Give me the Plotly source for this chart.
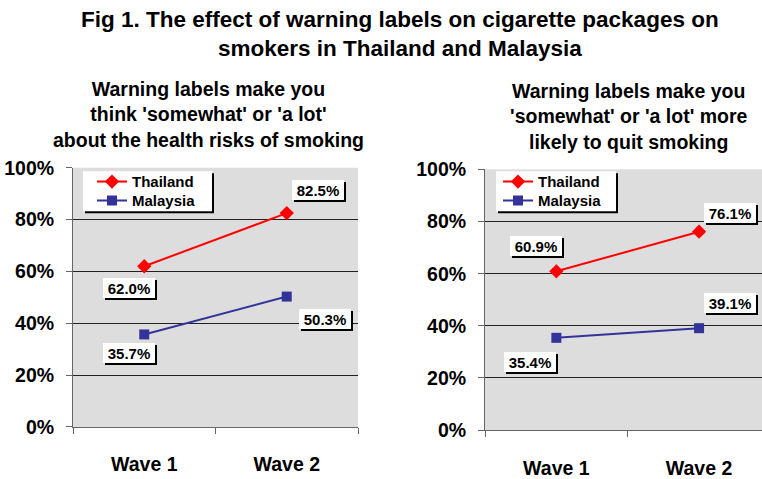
import plotly.graph_objects as go

# ---- data ----
waves = ["Wave 1", "Wave 2"]
think_thailand = [62.0, 82.5]
think_malaysia = [35.7, 50.3]
quit_thailand = [60.9, 76.1]
quit_malaysia = [35.4, 39.1]
y_ticks = [0, 20, 40, 60, 80, 100]
y_tick_labels = ["0%", "20%", "40%", "60%", "80%", "100%"]
series_names = ["Thailand", "Malaysia"]

title_text = "Fig 1. The effect of warning labels on cigarette packages on<br>smokers in Thailand and Malaysia"
sub_left = "Warning labels make you<br>think 'somewhat' or 'a lot'<br>about the health risks of smoking"
sub_right = "Warning labels make you<br>'somewhat' or 'a lot' more<br>likely to quit smoking"

W, H = 762, 479
FONT = "Liberation Sans, Arial, sans-serif"
RED = "#ff0000"
BLUE = "#333399"

def px_x(v):
    return v / W

def px_y(v):
    return 1 - v / H

fig = go.Figure()

def add_pair(th, ma, xa, ya, leg_th, leg_ma):
    fig.add_trace(go.Scatter(x=waves, y=th, name=series_names[0], mode="lines+markers",
                             line=dict(color=RED, width=2),
                             marker=dict(symbol="diamond", size=11, color=RED),
                             xaxis=xa, yaxis=ya, legend=leg_th))
    fig.add_trace(go.Scatter(x=waves, y=ma, name=series_names[1], mode="lines+markers",
                             line=dict(color=BLUE, width=2),
                             marker=dict(symbol="square", size=10, color=BLUE),
                             xaxis=xa, yaxis=ya, legend=leg_ma))

add_pair(think_thailand, think_malaysia, "x", "y", "legend", "legend2")
add_pair(quit_thailand, quit_malaysia, "x2", "y2", "legend3", "legend4")

tickfont = dict(family=FONT, size=19.5, color="black", weight="bold")
xcommon = dict(type="category", showline=True, linecolor="#666666", linewidth=1,
               ticks="outside", ticklen=6, tickcolor="#666666", tickson="boundaries",
               showgrid=False, tickfont=tickfont, ticklabelstandoff=20, fixedrange=True)
ycommon = dict(range=[0, 100], tickmode="array", tickvals=y_ticks, ticktext=y_tick_labels,
               showline=True, linecolor="#666666", linewidth=1, ticks="outside", ticklen=6,
               tickcolor="#666666", showgrid=True, gridcolor="#222222", gridwidth=1,
               zeroline=False, tickfont=tickfont, ticklabelstandoff=8, fixedrange=True)

legend_common = dict(bgcolor="rgba(0,0,0,0)", borderwidth=0, xanchor="left", yanchor="middle",
                     font=dict(family=FONT, size=15, color="black", weight="bold"),
                     itemwidth=30, tracegroupgap=0)

fig.update_layout(
    width=W, height=H, margin=dict(l=0, r=0, t=0, b=0),
    paper_bgcolor="white", plot_bgcolor="#dddddd",
    xaxis=dict(domain=[px_x(73), px_x(358)], range=[-0.5, 1.5], anchor="y", **xcommon),
    yaxis=dict(domain=[1 - 436 / H, 1 - 164.3 / H], anchor="x", **ycommon),
    xaxis2=dict(domain=[px_x(485), 1.0], range=[-0.5, 1.441], anchor="y2", **xcommon),
    yaxis2=dict(domain=[1 - 439.3 / H, 1 - 166 / H], anchor="x2", **ycommon),
    legend=dict(x=px_x(92), y=px_y(179), **legend_common),
    legend2=dict(x=px_x(92), y=px_y(199), **legend_common),
    legend3=dict(x=px_x(498), y=px_y(179), **legend_common),
    legend4=dict(x=px_x(498), y=px_y(199), **legend_common),
    showlegend=True,
)

# legend boxes with drop shadow
for (lx0, lx1) in [(83, 212), (496, 616)]:
    fig.add_shape(type="rect", xref="paper", yref="paper", layer="above",
                  x0=px_x(lx0 + 2), x1=px_x(lx1 + 2), y0=px_y(210 + 2), y1=px_y(168 + 2),
                  fillcolor="black", line=dict(width=0))
    fig.add_shape(type="rect", xref="paper", yref="paper", layer="above",
                  x0=px_x(lx0), x1=px_x(lx1), y0=px_y(210), y1=px_y(168),
                  fillcolor="white", line=dict(width=0))

annotations = []
annotations.append(dict(text="<b>" + title_text + "</b>", xref="paper", yref="paper",
                        x=px_x(399.5), y=px_y(24), xanchor="center", yanchor="middle",
                        showarrow=False, font=dict(family=FONT, size=22.5, color="black")))
annotations.append(dict(text="<b>" + sub_left + "</b>", xref="paper", yref="paper",
                        x=px_x(208), y=px_y(109), xanchor="center", yanchor="middle",
                        showarrow=False, font=dict(family=FONT, size=19.5, color="black")))
annotations.append(dict(text="<b>" + sub_right + "</b>", xref="paper", yref="paper",
                        x=px_x(629), y=px_y(111), xanchor="center", yanchor="middle",
                        showarrow=False, font=dict(family=FONT, size=19.5, color="black")))

# data labels with shadow boxes; label offsets in pixels (dx right, dy down)
label_sets = [
    ("x", "y", think_thailand, [(-15, 22), (31, -23)]),
    ("x", "y", think_malaysia, [(-15, 19), (38, 22)]),
    ("x2", "y2", quit_thailand, [(-20, -25), (31, -19)]),
    ("x2", "y2", quit_malaysia, [(-26, 24), (31, -25)]),
]
for xa, ya, vals, offs in label_sets:
    for i, v in enumerate(vals):
        dx, dy = offs[i]
        base = dict(x=waves[i], y=v, xref=xa, yref=ya, showarrow=False,
                    width=50, height=18, borderpad=1, borderwidth=0,
                    xanchor="center", yanchor="middle")
        annotations.append(dict(base, text="\u00a0", bgcolor="black",
                                xshift=dx + 2, yshift=-dy - 2,
                                font=dict(family=FONT, size=15, color="black")))
        annotations.append(dict(base, text="<b>%.1f%%</b>" % v, bgcolor="white",
                                xshift=dx, yshift=-dy,
                                font=dict(family=FONT, size=15, color="black")))

fig.update_layout(annotations=annotations)

fig.write_html("out.html")
